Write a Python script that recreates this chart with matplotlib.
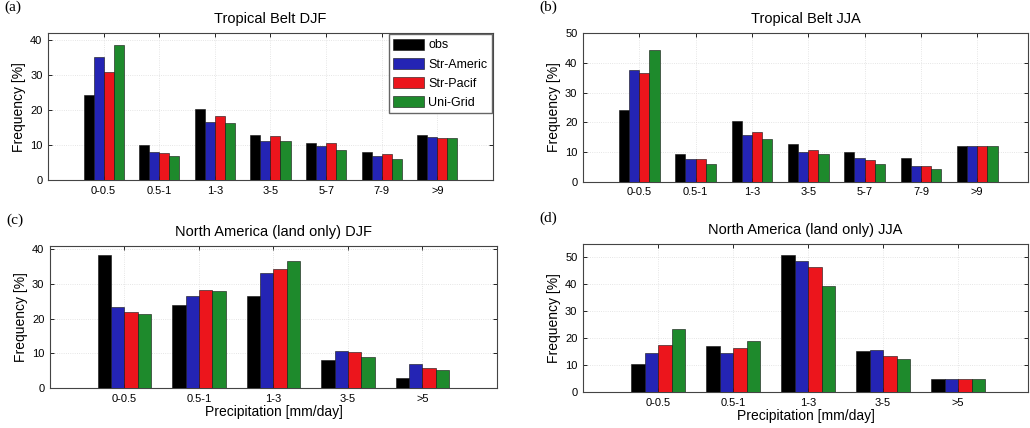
import numpy as np
import matplotlib
matplotlib.use('Agg')
import matplotlib.pyplot as plt

plt.rcParams['font.family'] = ['Liberation Sans', 'DejaVu Sans']

# series names and colours
series = ['obs', 'Str-Americ', 'Str-Pacif', 'Uni-Grid']
colors = ['#000000', '#2424b4', '#ec151c', '#1e8a2c']

# tropical belt bins
trop_bins = ['0-0.5', '0.5-1', '1-3', '3-5', '5-7', '7-9', '>9']
trop_djf = [
    [24.3, 9.9, 20.2, 12.8, 10.5, 8.0, 13.0],   # obs
    [35.1, 7.9, 16.5, 11.2, 9.7, 6.8, 12.3],    # Str-Americ
    [30.8, 7.8, 18.3, 12.5, 10.7, 7.5, 12.0],   # Str-Pacif
    [38.6, 6.8, 16.2, 11.3, 8.6, 6.1, 12.0],    # Uni-Grid
]
trop_jja = [
    [24.2, 9.2, 20.3, 12.7, 10.0, 7.9, 12.2],
    [37.4, 7.8, 15.8, 10.2, 7.9, 5.3, 12.2],
    [36.5, 7.7, 16.6, 10.7, 7.5, 5.3, 12.2],
    [44.4, 6.1, 14.4, 9.2, 6.1, 4.3, 12.2],
]

# north america bins
na_bins = ['0-0.5', '0.5-1', '1-3', '3-5', '>5']
na_djf = [
    [38.3, 24.0, 26.5, 8.0, 2.9],
    [23.4, 26.5, 33.1, 10.6, 6.9],
    [22.0, 28.2, 34.3, 10.4, 5.9],
    [21.4, 28.1, 36.7, 9.0, 5.2],
]
na_jja = [
    [10.5, 17.0, 51.0, 15.1, 4.9],
    [14.6, 14.6, 48.6, 15.8, 4.8],
    [17.5, 16.3, 46.3, 13.3, 4.8],
    [23.3, 19.0, 39.5, 12.1, 4.8],
]

fig = plt.figure(figsize=(10.3, 4.28), dpi=100)

panels = [
    # rect, label, title, bins, data, ylim, xlim, xlabel, legend
    ([0.0466, 0.579, 0.432, 0.344], '(a)', 'Tropical Belt DJF', trop_bins, trop_djf, 42, 8, False, True),
    ([0.566, 0.575, 0.432, 0.348], '(b)', 'Tropical Belt JJA', trop_bins, trop_jja, 50, 7.9, False, False),
    ([0.0485, 0.0935, 0.434, 0.332], '(c)', 'North America (land only) DJF', na_bins, na_djf, 41, 6, True, False),
    ([0.566, 0.084, 0.432, 0.346], '(d)', 'North America (land only) JJA', na_bins, na_jja, 55, 5.93, True, False),
]

w = 0.18
for rect, lab, title, bins, data, ymax, xmax, xl, leg in panels:
    ax = fig.add_axes(rect)
    x = np.arange(1, len(bins) + 1)
    for i, (name, vals) in enumerate(zip(series, data)):
        ax.bar(x + (i - 1.5) * w, vals, width=w, color=colors[i],
               edgecolor='#111111', linewidth=0.4, label=name, zorder=3)
    ax.set_xlim(0, xmax)
    ax.set_ylim(0, ymax)
    ax.set_xticks(x)
    ax.set_xticklabels(bins)
    ax.set_yticks(np.arange(0, ymax + 0.1, 10))
    ax.tick_params(direction='in', length=3, width=0.6, labelsize=8,
                   top=True, right=True, pad=4)
    ax.grid(True, color='#dddddd', linestyle=':', linewidth=0.6, zorder=0)
    for s in ax.spines.values():
        s.set_color('#444444')
        s.set_linewidth(0.8)
    ax.set_ylabel('Frequency [%]', fontsize=10, labelpad=3)
    ax.set_title(title, fontsize=10.5, pad=7)
    if xl:
        ax.set_xlabel('Precipitation [mm/day]', fontsize=10, labelpad=1)
    if leg:
        ax.legend(loc='upper right', fontsize=9, frameon=True, fancybox=False,
                  edgecolor='#666666', borderaxespad=0.1, handlelength=2.5,
                  handleheight=1.0, labelspacing=0.5, handletextpad=0.3,
                  borderpad=0.35, framealpha=1)
    bb = ax.get_position()
    fig.text(bb.x0 - 0.042, bb.y1 + 0.045, lab, fontsize=11,
             family='Liberation Serif', ha='left', va='bottom')

fig.savefig('out.png', dpi=100)
